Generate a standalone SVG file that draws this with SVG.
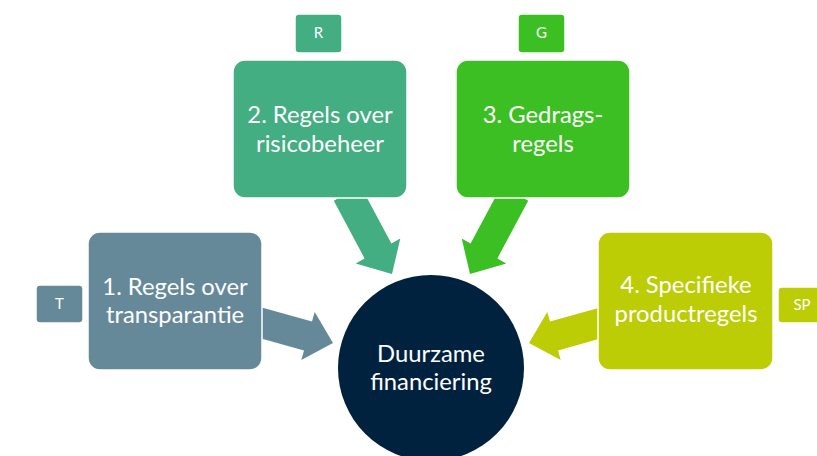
<svg xmlns="http://www.w3.org/2000/svg" width="817" height="456" viewBox="0 0 817 456">
<style>
.box{stroke:#ffffff;stroke-width:1.5}
.t{font-family:Lato,"Liberation Sans",sans-serif;font-size:23.8px;fill:#ffffff;text-anchor:middle}
.s{font-family:Lato,"Liberation Sans",sans-serif;font-size:15px;fill:#ffffff;text-anchor:middle}
.c1{fill:#66899a}.c2{fill:#42ae82}.c3{fill:#3cbf22}.c4{fill:#bccc05}
</style>
<rect width="817" height="456" fill="#ffffff"/>
<g id="connectors">
<polygon class="c1" points="259,306.8 312,321.6 314.7,311.9 333,343 301.3,360.1 304,350.4 251,335.6"/>
<polygon class="c4" points="603,306.8 550,321.6 547.3,311.9 529,343 560.7,360.1 558,350.4 611,335.6"/>
<polygon class="c2" points="333.8,200.7 360.6,185.9 391.4,243.6 400.3,238.6 392,274 355.7,263.4 364.6,258.4"/>
<polygon class="c3" points="528.2,200.7 501.4,185.9 470.6,243.6 461.7,238.6 470,274 506.3,263.4 497.4,258.4"/>
</g>
<g id="node-center">
<circle cx="431" cy="368" r="93" fill="#00223f"/>
<text class="t" x="431" y="362">Duurzame</text>
<text class="t" x="431" y="390">financiering</text>
</g>
<g id="node-1">
<rect class="box c1" x="88" y="232" width="174" height="138" rx="12"/>
<text class="t" x="175" y="295">1. Regels over</text>
<text class="t" x="175" y="323">transparantie</text>
</g>
<g id="label-T">
<rect class="box c1" x="36" y="285" width="47" height="38" rx="4"/>
<text class="s" x="59.5" y="309">T</text>
</g>
<g id="node-2">
<rect class="box c2" x="233" y="60" width="174" height="138" rx="12"/>
<text class="t" x="320" y="123">2. Regels over</text>
<text class="t" x="320" y="152">risicobeheer</text>
</g>
<g id="label-R">
<rect class="box c2" x="295" y="14" width="47" height="39" rx="4"/>
<text class="s" x="318.5" y="38">R</text>
</g>
<g id="node-3">
<rect class="box c3" x="456" y="60" width="174" height="138" rx="12"/>
<text class="t" x="543" y="123">3. Gedrags-</text>
<text class="t" x="543" y="152">regels</text>
</g>
<g id="label-G">
<rect class="box c3" x="518" y="14" width="47" height="39" rx="4"/>
<text class="s" x="541.5" y="38">G</text>
</g>
<g id="node-4">
<rect class="box c4" x="598" y="232" width="175" height="138" rx="12"/>
<text class="t" x="686" y="293">4. Specifieke</text>
<text class="t" x="686" y="322">productregels</text>
</g>
<g id="label-SP">
<rect class="box c4" x="778" y="287" width="50" height="36" rx="4"/>
<text class="s" x="802" y="310">SP</text>
</g>
</svg>
